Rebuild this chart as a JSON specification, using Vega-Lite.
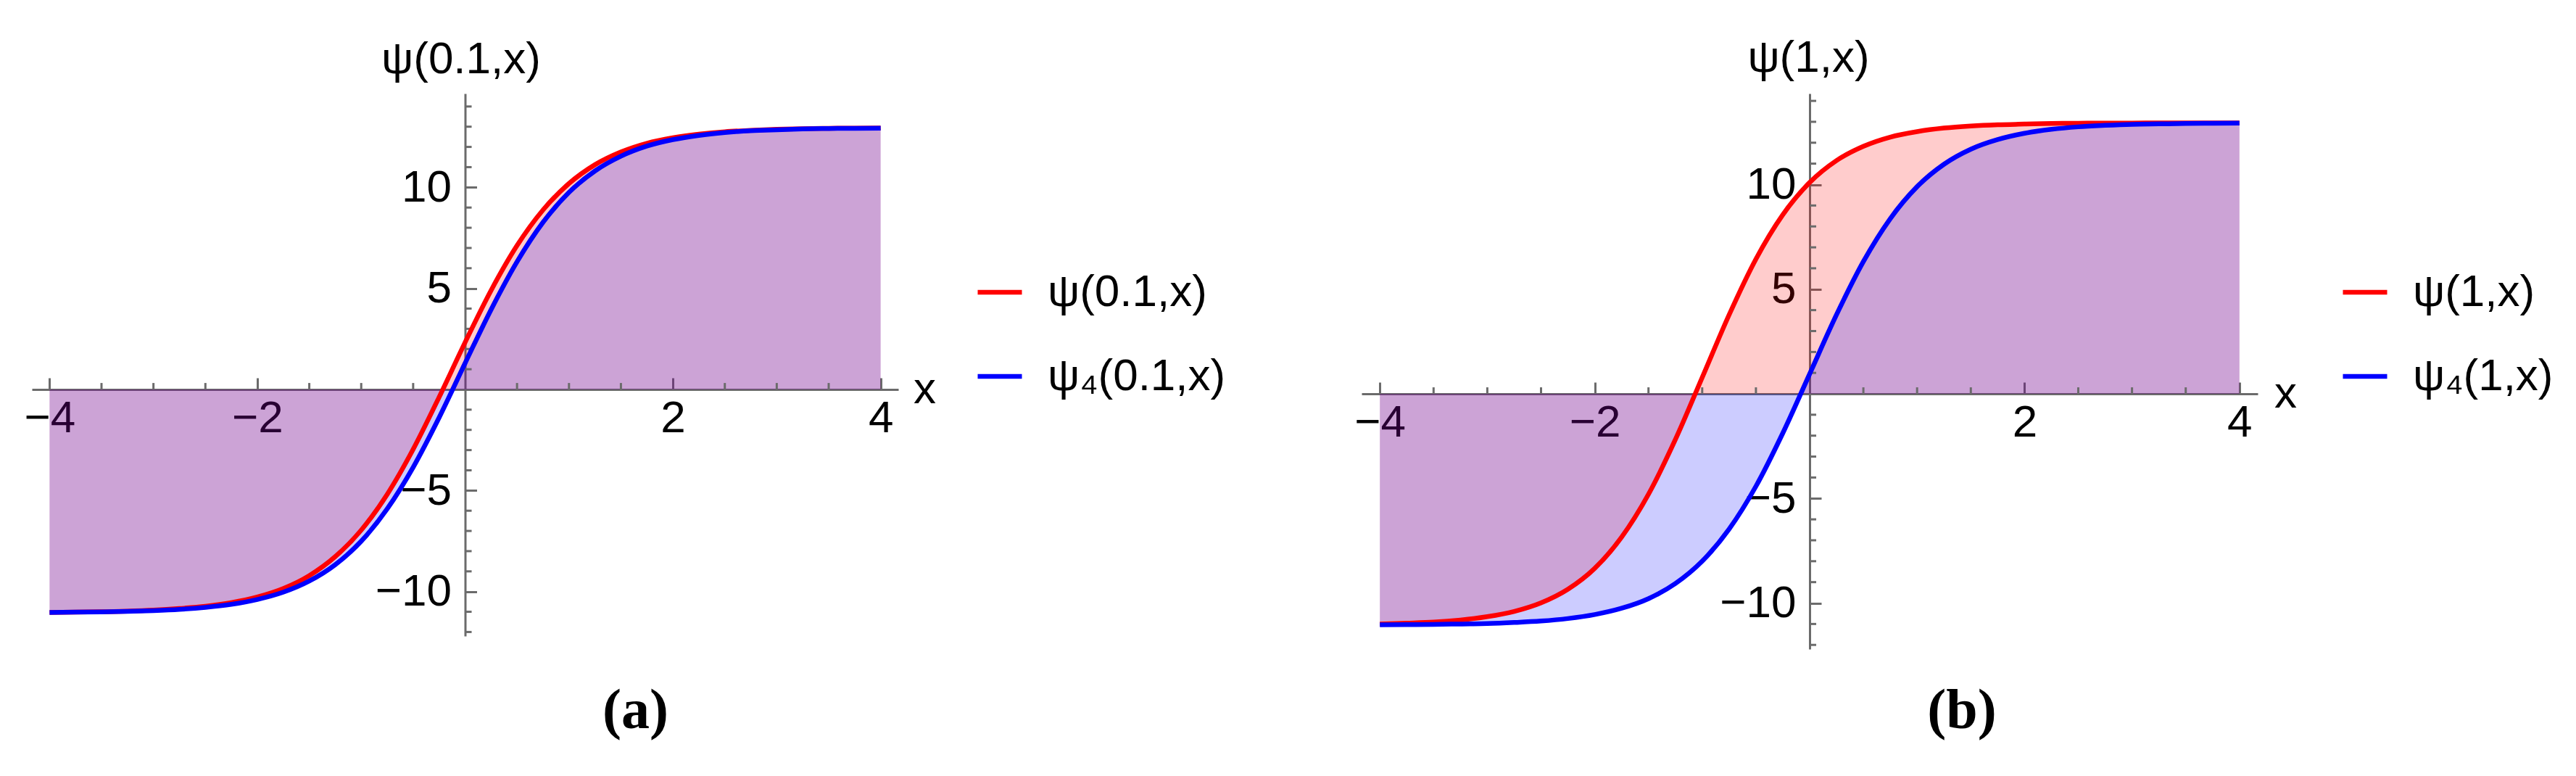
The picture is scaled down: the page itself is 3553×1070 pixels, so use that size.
{
  "$schema": "https://vega.github.io/schema/vega-lite/v6.json",
  "background": "white",
  "padding": {"left": 33, "top": 48, "right": 5, "bottom": 5},
  "config": {
    "view": {"stroke": null},
    "font": "Liberation Sans",
    "axis": {
      "grid": false,
      "domainColor": "#6b6b6b",
      "domainWidth": 3,
      "tickColor": "#6b6b6b",
      "tickWidth": 3,
      "tickSize": -16,
      "labelFont": "Liberation Sans",
      "labelFontSize": 62,
      "labelColor": "black",
      "labelAngle": 0,
      "titleFont": "Liberation Sans",
      "titleFontSize": 62,
      "titleFontWeight": "normal",
      "titleColor": "black",
      "titleAngle": 0,
      "zindex": 1
    },
    "rule": {"stroke": "#6b6b6b", "strokeWidth": 3},
    "title": {"font": "Liberation Serif", "fontSize": 78, "fontWeight": "bold", "color": "black"}
  },
  "datasets": {
    "xminor": [{"v": -3.5}, {"v": -3}, {"v": -2.5}, {"v": -1.5}, {"v": -1}, {"v": -0.5}, {"v": 0.5}, {"v": 1}, {"v": 1.5}, {"v": 2.5}, {"v": 3}, {"v": 3.5}],
    "yminor": [{"v": -12}, {"v": -11}, {"v": -9}, {"v": -8}, {"v": -7}, {"v": -6}, {"v": -4}, {"v": -3}, {"v": -2}, {"v": -1}, {"v": 1}, {"v": 2}, {"v": 3}, {"v": 4}, {"v": 6}, {"v": 7}, {"v": 8}, {"v": 9}, {"v": 11}, {"v": 12}, {"v": 13}, {"v": 14}],
    "left": [
      {"x": -4, "y": -11.03, "series": "ψ(0.1,x)"}, {"x": -3.75, "y": -11.02, "series": "ψ(0.1,x)"}, {"x": -3.5, "y": -11.0, "series": "ψ(0.1,x)"}, {"x": -3.25, "y": -10.97, "series": "ψ(0.1,x)"},
      {"x": -3, "y": -10.92, "series": "ψ(0.1,x)"}, {"x": -2.75, "y": -10.84, "series": "ψ(0.1,x)"}, {"x": -2.5, "y": -10.73, "series": "ψ(0.1,x)"}, {"x": -2.25, "y": -10.55, "series": "ψ(0.1,x)"},
      {"x": -2, "y": -10.27, "series": "ψ(0.1,x)"}, {"x": -1.75, "y": -9.85, "series": "ψ(0.1,x)"}, {"x": -1.5, "y": -9.21, "series": "ψ(0.1,x)"}, {"x": -1.25, "y": -8.27, "series": "ψ(0.1,x)"},
      {"x": -1, "y": -6.96, "series": "ψ(0.1,x)"}, {"x": -0.75, "y": -5.19, "series": "ψ(0.1,x)"}, {"x": -0.5, "y": -2.96, "series": "ψ(0.1,x)"}, {"x": -0.25, "y": -0.38, "series": "ψ(0.1,x)"},
      {"x": 0, "y": 2.33, "series": "ψ(0.1,x)"}, {"x": 0.25, "y": 4.9, "series": "ψ(0.1,x)"}, {"x": 0.5, "y": 7.12, "series": "ψ(0.1,x)"}, {"x": 0.75, "y": 8.88, "series": "ψ(0.1,x)"},
      {"x": 1, "y": 10.19, "series": "ψ(0.1,x)"}, {"x": 1.25, "y": 11.12, "series": "ψ(0.1,x)"}, {"x": 1.5, "y": 11.75, "series": "ψ(0.1,x)"}, {"x": 1.75, "y": 12.18, "series": "ψ(0.1,x)"},
      {"x": 2, "y": 12.45, "series": "ψ(0.1,x)"}, {"x": 2.25, "y": 12.63, "series": "ψ(0.1,x)"}, {"x": 2.5, "y": 12.75, "series": "ψ(0.1,x)"}, {"x": 2.75, "y": 12.82, "series": "ψ(0.1,x)"},
      {"x": 3, "y": 12.87, "series": "ψ(0.1,x)"}, {"x": 3.25, "y": 12.9, "series": "ψ(0.1,x)"}, {"x": 3.5, "y": 12.92, "series": "ψ(0.1,x)"}, {"x": 3.75, "y": 12.93, "series": "ψ(0.1,x)"},
      {"x": 4, "y": 12.94, "series": "ψ(0.1,x)"},
      {"x": -4, "y": -11.03, "series": "ψ₄(0.1,x)"}, {"x": -3.75, "y": -11.02, "series": "ψ₄(0.1,x)"}, {"x": -3.5, "y": -11.01, "series": "ψ₄(0.1,x)"}, {"x": -3.25, "y": -10.98, "series": "ψ₄(0.1,x)"},
      {"x": -3, "y": -10.94, "series": "ψ₄(0.1,x)"}, {"x": -2.75, "y": -10.88, "series": "ψ₄(0.1,x)"}, {"x": -2.5, "y": -10.78, "series": "ψ₄(0.1,x)"}, {"x": -2.25, "y": -10.63, "series": "ψ₄(0.1,x)"},
      {"x": -2, "y": -10.39, "series": "ψ₄(0.1,x)"}, {"x": -1.75, "y": -10.03, "series": "ψ₄(0.1,x)"}, {"x": -1.5, "y": -9.48, "series": "ψ₄(0.1,x)"}, {"x": -1.25, "y": -8.67, "series": "ψ₄(0.1,x)"},
      {"x": -1, "y": -7.51, "series": "ψ₄(0.1,x)"}, {"x": -0.75, "y": -5.91, "series": "ψ₄(0.1,x)"}, {"x": -0.5, "y": -3.85, "series": "ψ₄(0.1,x)"}, {"x": -0.25, "y": -1.39, "series": "ψ₄(0.1,x)"},
      {"x": 0, "y": 1.3, "series": "ψ₄(0.1,x)"}, {"x": 0.25, "y": 3.95, "series": "ψ₄(0.1,x)"}, {"x": 0.5, "y": 6.32, "series": "ψ₄(0.1,x)"}, {"x": 0.75, "y": 8.27, "series": "ψ₄(0.1,x)"},
      {"x": 1, "y": 9.75, "series": "ψ₄(0.1,x)"}, {"x": 1.25, "y": 10.81, "series": "ψ₄(0.1,x)"}, {"x": 1.5, "y": 11.54, "series": "ψ₄(0.1,x)"}, {"x": 1.75, "y": 12.04, "series": "ψ₄(0.1,x)"},
      {"x": 2, "y": 12.36, "series": "ψ₄(0.1,x)"}, {"x": 2.25, "y": 12.57, "series": "ψ₄(0.1,x)"}, {"x": 2.5, "y": 12.71, "series": "ψ₄(0.1,x)"}, {"x": 2.75, "y": 12.8, "series": "ψ₄(0.1,x)"},
      {"x": 3, "y": 12.85, "series": "ψ₄(0.1,x)"}, {"x": 3.25, "y": 12.89, "series": "ψ₄(0.1,x)"}, {"x": 3.5, "y": 12.91, "series": "ψ₄(0.1,x)"}, {"x": 3.75, "y": 12.92, "series": "ψ₄(0.1,x)"},
      {"x": 4, "y": 12.93, "series": "ψ₄(0.1,x)"}
    ],
    "right": [
      {"x": -4, "y": -11.0, "series": "ψ(1,x)"}, {"x": -3.75, "y": -10.96, "series": "ψ(1,x)"}, {"x": -3.5, "y": -10.91, "series": "ψ(1,x)"}, {"x": -3.25, "y": -10.81, "series": "ψ(1,x)"},
      {"x": -3, "y": -10.65, "series": "ψ(1,x)"}, {"x": -2.75, "y": -10.4, "series": "ψ(1,x)"}, {"x": -2.5, "y": -9.99, "series": "ψ(1,x)"}, {"x": -2.25, "y": -9.34, "series": "ψ(1,x)"},
      {"x": -2, "y": -8.34, "series": "ψ(1,x)"}, {"x": -1.75, "y": -6.85, "series": "ψ(1,x)"}, {"x": -1.5, "y": -4.8, "series": "ψ(1,x)"}, {"x": -1.25, "y": -2.19, "series": "ψ(1,x)"},
      {"x": -1, "y": 0.78, "series": "ψ(1,x)"}, {"x": -0.75, "y": 3.77, "series": "ψ(1,x)"}, {"x": -0.5, "y": 6.44, "series": "ψ(1,x)"}, {"x": -0.25, "y": 8.56, "series": "ψ(1,x)"},
      {"x": 0, "y": 10.1, "series": "ψ(1,x)"}, {"x": 0.25, "y": 11.15, "series": "ψ(1,x)"}, {"x": 0.5, "y": 11.83, "series": "ψ(1,x)"}, {"x": 0.75, "y": 12.27, "series": "ψ(1,x)"},
      {"x": 1, "y": 12.53, "series": "ψ(1,x)"}, {"x": 1.25, "y": 12.7, "series": "ψ(1,x)"}, {"x": 1.5, "y": 12.8, "series": "ψ(1,x)"}, {"x": 1.75, "y": 12.86, "series": "ψ(1,x)"},
      {"x": 2, "y": 12.89, "series": "ψ(1,x)"}, {"x": 2.25, "y": 12.92, "series": "ψ(1,x)"}, {"x": 2.5, "y": 12.93, "series": "ψ(1,x)"}, {"x": 2.75, "y": 12.94, "series": "ψ(1,x)"},
      {"x": 3, "y": 12.94, "series": "ψ(1,x)"}, {"x": 3.25, "y": 12.95, "series": "ψ(1,x)"}, {"x": 3.5, "y": 12.95, "series": "ψ(1,x)"}, {"x": 3.75, "y": 12.95, "series": "ψ(1,x)"},
      {"x": 4, "y": 12.95, "series": "ψ(1,x)"},
      {"x": -4, "y": -11.04, "series": "ψ₄(1,x)"}, {"x": -3.75, "y": -11.03, "series": "ψ₄(1,x)"}, {"x": -3.5, "y": -11.02, "series": "ψ₄(1,x)"}, {"x": -3.25, "y": -11.0, "series": "ψ₄(1,x)"},
      {"x": -3, "y": -10.98, "series": "ψ₄(1,x)"}, {"x": -2.75, "y": -10.93, "series": "ψ₄(1,x)"}, {"x": -2.5, "y": -10.86, "series": "ψ₄(1,x)"}, {"x": -2.25, "y": -10.74, "series": "ψ₄(1,x)"},
      {"x": -2, "y": -10.55, "series": "ψ₄(1,x)"}, {"x": -1.75, "y": -10.25, "series": "ψ₄(1,x)"}, {"x": -1.5, "y": -9.79, "series": "ψ₄(1,x)"}, {"x": -1.25, "y": -9.07, "series": "ψ₄(1,x)"},
      {"x": -1, "y": -8.0, "series": "ψ₄(1,x)"}, {"x": -0.75, "y": -6.47, "series": "ψ₄(1,x)"}, {"x": -0.5, "y": -4.42, "series": "ψ₄(1,x)"}, {"x": -0.25, "y": -1.88, "series": "ψ₄(1,x)"},
      {"x": 0, "y": 0.95, "series": "ψ₄(1,x)"}, {"x": 0.25, "y": 3.78, "series": "ψ₄(1,x)"}, {"x": 0.5, "y": 6.32, "series": "ψ₄(1,x)"}, {"x": 0.75, "y": 8.37, "series": "ψ₄(1,x)"},
      {"x": 1, "y": 9.9, "series": "ψ₄(1,x)"}, {"x": 1.25, "y": 10.97, "series": "ψ₄(1,x)"}, {"x": 1.5, "y": 11.69, "series": "ψ₄(1,x)"}, {"x": 1.75, "y": 12.15, "series": "ψ₄(1,x)"},
      {"x": 2, "y": 12.45, "series": "ψ₄(1,x)"}, {"x": 2.25, "y": 12.64, "series": "ψ₄(1,x)"}, {"x": 2.5, "y": 12.76, "series": "ψ₄(1,x)"}, {"x": 2.75, "y": 12.83, "series": "ψ₄(1,x)"},
      {"x": 3, "y": 12.88, "series": "ψ₄(1,x)"}, {"x": 3.25, "y": 12.9, "series": "ψ₄(1,x)"}, {"x": 3.5, "y": 12.92, "series": "ψ₄(1,x)"}, {"x": 3.75, "y": 12.93, "series": "ψ₄(1,x)"},
      {"x": 4, "y": 12.94, "series": "ψ₄(1,x)"}
    ]
  },
  "bounds": "flush",
  "spacing": 639,
  "resolve": {"scale": {"color": "independent", "fill": "independent"}, "legend": {"color": "independent", "fill": "independent"}},
  "hconcat": [
    {
      "width": 1195,
      "height": 748,
      "title": {"text": "(a)", "orient": "bottom", "anchor": "middle", "frame": "group", "dx": 235, "offset": 65},
      "layer": [
        {
          "data": {"name": "left"},
          "mark": {"type": "area", "fillOpacity": 0.2, "interpolate": "monotone"},
          "encoding": {
            "x": {"field": "x", "type": "quantitative", "scale": {"domain": [-4.17, 4.17], "nice": false, "zero": false},
              "axis": {
                "orient": "bottom", "offset": -340, "format": "~g",
                "labelOverlap": false, "labelFlush": false, "labelBound": false,
                "values": [-4, -2, 2, 4],
                "labelPadding": 25,
                "title": "x", "titleX": 1231, "titleY": 18, "titleAlign": "center", "titleBaseline": "alphabetic"
              }},
            "y": {"field": "y", "type": "quantitative", "stack": null, "scale": {"domain": [-12.2, 14.64], "nice": false, "zero": false},
              "axis": {
                "orient": "left", "offset": -597.5, "format": "~g",
                "labelOverlap": false, "labelFlush": false, "labelBound": false,
                "values": [-10, -5, 5, 10],
                "labelPadding": 35,
                "title": "ψ(0.1,x)", "titleX": -6, "titleY": -29, "titleAlign": "center", "titleBaseline": "alphabetic"
              }},
            "y2": {"datum": 0},
            "fill": {"field": "series", "type": "nominal", "scale": {"domain": ["ψ(0.1,x)", "ψ₄(0.1,x)"], "range": ["#ff0000", "#0000ff"]}, "legend": null}
          }
        },
        {
          "data": {"name": "xminor"},
          "mark": {"type": "rule"},
          "encoding": {"x": {"field": "v", "type": "quantitative"}, "y": {"datum": 0}, "y2": {"datum": 0.32}}
        },
        {
          "data": {"name": "yminor"},
          "mark": {"type": "rule"},
          "encoding": {"y": {"field": "v", "type": "quantitative"}, "x": {"datum": 0}, "x2": {"datum": 0.063}}
        },
        {
          "data": {"name": "left"},
          "mark": {"type": "line", "strokeWidth": 6.5, "interpolate": "monotone"},
          "encoding": {
            "x": {"field": "x", "type": "quantitative"},
            "y": {"field": "y", "type": "quantitative"},
            "color": {"field": "series", "type": "nominal", "scale": {"range": ["#ff0000", "#0000ff"]},
              "legend": {"orient": "none", "legendX": 1301, "legendY": 240, "title": null, "symbolType": "stroke", "symbolStrokeWidth": 6.5, "symbolSize": 3721,
                "labelFont": "Liberation Sans", "labelFontSize": 62, "labelColor": "black", "labelOffset": 32, "rowPadding": 51, "padding": 0, "labelLimit": 1000}}
          }
        }
      ]
    },
    {
      "width": 1236,
      "height": 766,
      "title": {"text": "(b)", "orient": "bottom", "anchor": "middle", "frame": "group", "dx": 210, "offset": 47},
      "layer": [
        {
          "data": {"name": "right"},
          "mark": {"type": "area", "fillOpacity": 0.2, "interpolate": "monotone"},
          "encoding": {
            "x": {"field": "x", "type": "quantitative", "scale": {"domain": [-4.17, 4.17], "nice": false, "zero": false},
              "axis": {
                "orient": "bottom", "offset": -352, "format": "~g",
                "labelOverlap": false, "labelFlush": false, "labelBound": false,
                "values": [-4, -2, 2, 4],
                "labelPadding": 25,
                "title": "x", "titleX": 1274, "titleY": 18, "titleAlign": "center", "titleBaseline": "alphabetic"
              }},
            "y": {"field": "y", "type": "quantitative", "stack": null, "scale": {"domain": [-12.2, 14.35], "nice": false, "zero": false},
              "axis": {
                "orient": "left", "offset": -618, "format": "~g",
                "labelOverlap": false, "labelFlush": false, "labelBound": false,
                "values": [-10, -5, 5, 10],
                "labelPadding": 35,
                "title": "ψ(1,x)", "titleX": -2, "titleY": -31, "titleAlign": "center", "titleBaseline": "alphabetic"
              }},
            "y2": {"datum": 0},
            "fill": {"field": "series", "type": "nominal", "scale": {"domain": ["ψ(1,x)", "ψ₄(1,x)"], "range": ["#ff0000", "#0000ff"]}, "legend": null}
          }
        },
        {
          "data": {"name": "xminor"},
          "mark": {"type": "rule"},
          "encoding": {"x": {"field": "v", "type": "quantitative"}, "y": {"datum": 0}, "y2": {"datum": 0.31}}
        },
        {
          "data": {"name": "yminor"},
          "mark": {"type": "rule"},
          "encoding": {"y": {"field": "v", "type": "quantitative"}, "x": {"datum": 0}, "x2": {"datum": 0.061}}
        },
        {
          "data": {"name": "right"},
          "mark": {"type": "line", "strokeWidth": 6.5, "interpolate": "monotone"},
          "encoding": {
            "x": {"field": "x", "type": "quantitative"},
            "y": {"field": "y", "type": "quantitative"},
            "color": {"field": "series", "type": "nominal", "scale": {"range": ["#ff0000", "#0000ff"]},
              "legend": {"orient": "none", "legendX": 1350, "legendY": 240, "title": null, "symbolType": "stroke", "symbolStrokeWidth": 6.5, "symbolSize": 3721,
                "labelFont": "Liberation Sans", "labelFontSize": 62, "labelColor": "black", "labelOffset": 32, "rowPadding": 51, "padding": 0, "labelLimit": 1000}}
          }
        }
      ]
    }
  ]
}
